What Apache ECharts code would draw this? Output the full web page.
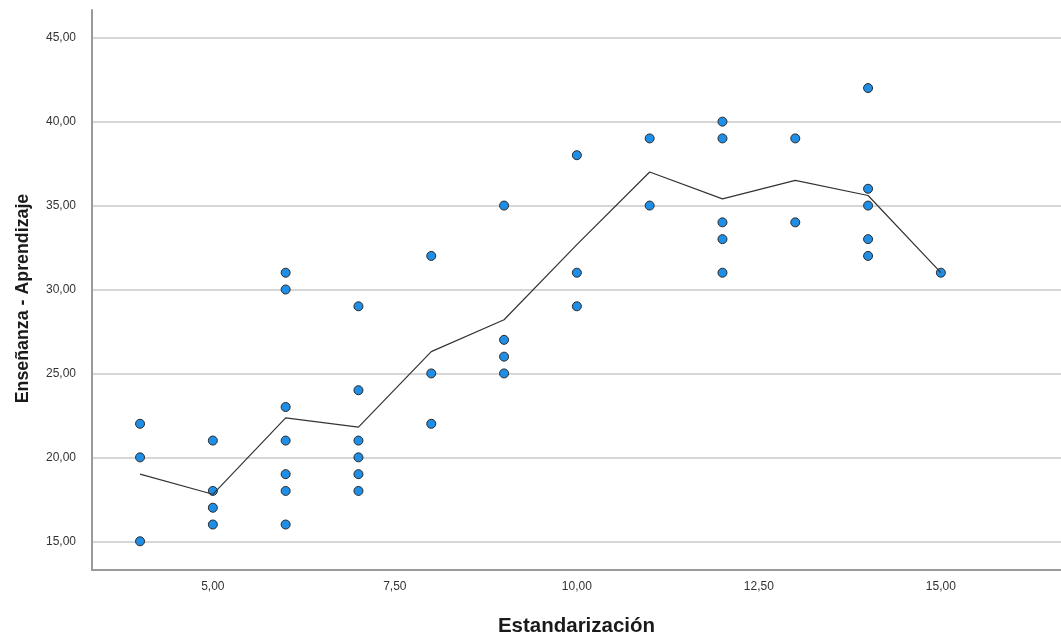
<!DOCTYPE html>
<html>
<head>
<meta charset="utf-8">
<script src="https://cdn.jsdelivr.net/npm/echarts@6/dist/echarts.min.js"></script>
<style>
  html, body { margin: 0; padding: 0; background: #fff; }
  #chart { width: 1061px; height: 642px; }
</style>
</head>
<body>
<div id="chart"></div>
<script>
// ---- Data ----
const xValues = [4, 5, 6, 7, 8, 9, 10, 11, 12, 13, 14, 15];
const yGroups = [
  [22, 20, 15],
  [21, 18, 17, 16],
  [31, 30, 23, 21, 19, 18, 16],
  [29, 24, 21, 20, 19, 18],
  [32, 25, 22],
  [35, 27, 26, 25],
  [38, 31, 29],
  [39, 35],
  [40, 39, 34, 33, 31],
  [39, 34],
  [42, 36, 35, 33, 32],
  [31]
];
const meanLine = [19, 17.8, 22.35, 21.8, 26.3, 28.2, 32.67, 37, 35.4, 36.5, 35.6, 31];
const xTicks = [5, 7.5, 10, 12.5, 15];
const yTicks = [15, 20, 25, 30, 35, 40, 45];
const xTitle = 'Estandarización';
const yTitle = 'Enseñanza - Aprendizaje';

// ---- Build series data ----
const scatterData = [];
xValues.forEach((x, i) => yGroups[i].forEach(y => scatterData.push([x, y])));
const lineData = xValues.map((x, i) => [x, meanLine[i]]);

const fmt = v => v.toFixed(2).replace('.', ',');
const font = 'Liberation Sans, Arial, sans-serif';

const chart = echarts.init(document.getElementById('chart'), null, { renderer: 'canvas' });
chart.setOption({
  animation: false,
  backgroundColor: '#ffffff',
  grid: { left: 92, right: 0, top: 10, bottom: 65, containLabel: false },
  xAxis: {
    type: 'value',
    min: 3.34,
    max: 16.65,
    name: xTitle,
    nameLocation: 'middle',
    nameGap: 46,
    nameTextStyle: { fontFamily: font, fontSize: 20.5, fontWeight: 'bold', color: '#1a1a1a' },
    axisLine: { show: true, onZero: false, lineStyle: { color: '#9a9a9a', width: 2 } },
    axisTick: { show: false, customValues: xTicks },
    splitLine: { show: false },
    axisLabel: {
      customValues: xTicks,
      formatter: fmt,
      margin: 11,
      fontFamily: font,
      fontSize: 12,
      color: '#333'
    }
  },
  yAxis: {
    type: 'value',
    min: 13.29,
    max: 46.65,
    name: yTitle,
    nameLocation: 'middle',
    nameGap: 60,
    nameRotate: 90,
    nameTextStyle: { fontFamily: font, fontSize: 17.8, fontWeight: 'bold', color: '#1a1a1a', padding: [0, 17, 0, 0] },
    axisLine: { show: true, onZero: false, lineStyle: { color: '#9a9a9a', width: 2 } },
    axisTick: { show: false, customValues: yTicks },
    splitLine: { show: true, lineStyle: { color: '#c8c8c8', width: 1.5 } },
    axisLabel: {
      customValues: yTicks,
      formatter: fmt,
      margin: 16,
      fontFamily: font,
      fontSize: 12,
      color: '#333'
    }
  },
  series: [
    {
      type: 'scatter',
      data: scatterData,
      symbol: 'circle',
      symbolSize: 9,
      itemStyle: { color: '#1f8ee6', borderColor: '#2a2a2a', borderWidth: 1, opacity: 1 },
      z: 2
    },
    {
      type: 'line',
      data: lineData,
      showSymbol: false,
      symbol: 'none',
      lineStyle: { color: '#333333', width: 1.2 },
      z: 3
    }
  ]
});
</script>
</body>
</html>
